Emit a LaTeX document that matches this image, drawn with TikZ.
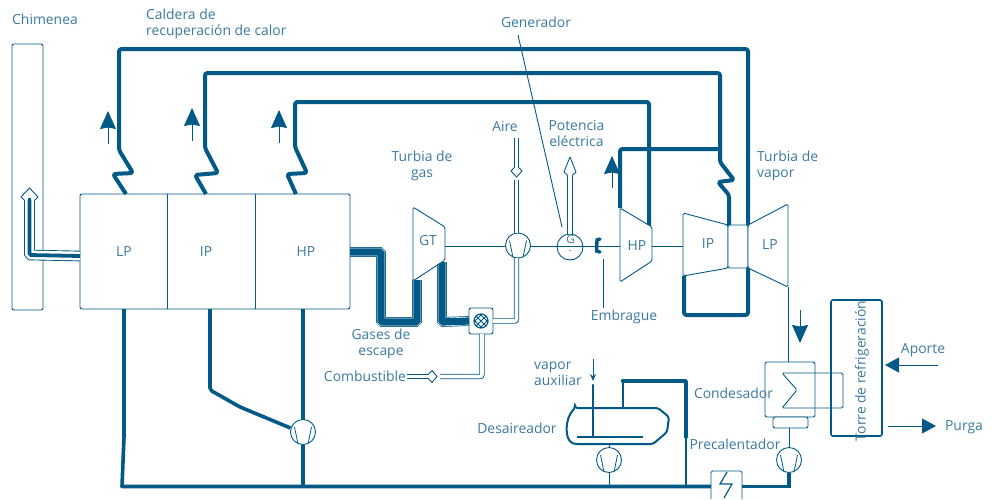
\documentclass[tikz,border=0pt]{standalone}
\usepackage{fontspec}
\setmainfont{Open Sans}
\usetikzlibrary{arrows.meta}
\definecolor{pipeblue}{HTML}{005A85}
\definecolor{textblue}{HTML}{3A7AA0}
\tikzset{
  thinline/.style={draw=pipeblue,line width=0.9pt,rounded corners=1.5pt},
  steam/.style={draw=pipeblue,line width=4pt,line join=round,rounded corners=2.5pt},
  water/.style={draw=pipeblue,line width=3.6pt,line join=round},
  twin/.style={draw=pipeblue,line width=0.9pt,double=white,double distance=3.6pt,rounded corners=2pt},
  gasline/.style={preaction={draw=pipeblue,line width=9.8pt},preaction={draw=white,line width=8.4pt},
    draw=pipeblue,line width=7.2pt,rounded corners=1.5pt},
  flueline/.style={preaction={draw=pipeblue,line width=10.6pt},preaction={draw=white,line width=8.8pt},
    draw=pipeblue,line width=3.8pt,rounded corners=1.5pt},
  flow/.style={draw=pipeblue,line width=0.9pt,-{Stealth[length=18pt,width=16pt,inset=1.5pt]}},
  box/.style={draw=pipeblue,line width=0.9pt,rounded corners=2pt,outer sep=0pt,inner sep=0pt},
  pump/.style={circle,draw=pipeblue,line width=0.9pt,fill=white,minimum size=25pt,inner sep=0pt,outer sep=0pt,
    path picture={
      \draw[pipeblue,line width=0.8pt] ([shift={(-8.5,-5)}]path picture bounding box.center) -- ([shift={(-5,12)}]path picture bounding box.center);
      \draw[pipeblue,line width=0.8pt] ([shift={(8.5,-5)}]path picture bounding box.center) -- ([shift={(5,12)}]path picture bounding box.center);
    }},
  lbl/.style={text=textblue,font=\fontsize{13.9}{16}\selectfont,align=center,inner sep=0pt},
  pics/hollowtip/.style n args={3}{code={
    \fill[white] (-#3,#2+3) -- (-#1,#2) -- (0,0) -- (#1,#2) -- (#3,#2+3) -- cycle;
    \draw[pipeblue,line width=0.9pt,line join=round] (-#3,#2+3) -- (-#1,#2) -- (0,0) -- (#1,#2) -- (#3,#2+3);
  }}
}
\begin{document}
\begin{tikzpicture}[x=1pt,y=-1pt,>=stealth]
  \useasboundingbox (0,0) rectangle (993,499);

  \node[box,minimum width=31pt,minimum height=266pt] (chimney) at (27.5,177) {};
  \node[box,minimum width=270pt,minimum height=115pt] (boiler) at (215,251.5) {};
  \draw[thinline] (boiler.north -| 167,0) -- (boiler.south -| 167,0);
  \draw[thinline] (boiler.north -| 255,0) -- (boiler.south -| 255,0);
  \node[lbl] (lplabel) at (124,252) {LP};
  \node[lbl] (iplabel) at (206,252) {IP};
  \node[lbl] (hplabel) at (306,252) {HP};

  \coordinate (lpboil) at (126,194);
  \coordinate (ipboil) at (206,194);
  \coordinate (hpboil) at (296,194);
  \coordinate (hpin) at (649,226);
  \coordinate (hpout) at (620,208);
  \coordinate (ipin) at (729,225);
  \coordinate (lpin) at (748,225);
  \coordinate (lpback) at (748,268);
  \coordinate (ipback) at (684,276);

  \draw[steam] (lpboil) -- (113,174) -- (133,173) -- (119,150) -- (119,49) -- (748,49) -- (lpin);
  \draw[steam] (ipboil) -- (195,175) -- (218,173) -- (205,148) -- (205,73) -- (720,73) -- (720,162)
    -- (734,180) -- (718,182) -- (729,195) -- (ipin);
  \draw[steam] (hpboil) -- (287,174) -- (307,173) -- (295,147) -- (295,102) -- (649,102) -- (hpin);
  \draw[steam] (hpout) -- (620,149) -- (720,149);
  \draw[steam] (ipback) -- (684,315) -- (748,315) -- (lpback);

  \draw[flow] (108,144) -- (108,111);
  \draw[flow] (192,141) -- (192,108);
  \draw[flow] (279,143) -- (279,110);
  \draw[flow] (612,188) -- (612,156);
  \draw[flow] (800,310) -- (800,343);

  \coordinate (flueout) at (80,256);
  \draw[flueline] (flueout) -- (29.5,255) -- (29.5,200);
  \pic at (29.5,188) {hollowtip={8.5}{9}{5.3}};
  \draw[draw=pipeblue,line width=3.8pt] (29.5,205) -- (29.5,198);

  \coordinate (gasin) at (350,252);
  \coordinate (gtin) at (417,280);
  \coordinate (gtout) at (442,262);
  \node[box,fill=white,minimum width=24pt,minimum height=26pt] (mixer) at (481,321) {};
  \draw[gasline] (gasin) -- (381,252) -- (381,322) -- (417,322) -- (gtin);
  \draw[gasline] (gtout) -- (442,322) -- (mixer.west);
  \node[circle,draw=pipeblue,line width=1.2pt,minimum size=14pt,inner sep=0pt,outer sep=0pt,
    path picture={
      \foreach \d in {-6,0,6} {
        \draw[pipeblue,line width=0.8pt] ([shift={(\d-8,8)}]path picture bounding box.center) -- ([shift={(\d+8,-8)}]path picture bounding box.center);
        \draw[pipeblue,line width=0.8pt] ([shift={(\d-8,-8)}]path picture bounding box.center) -- ([shift={(\d+8,8)}]path picture bounding box.center);
      }
    }] (burner) at (481,321) {};

  \draw[thinline,fill=white] (413,207) -- (445,227) -- (445,260) -- (413,281) -- cycle;
  \node[lbl] (gtlabel) at (428,241) {GT};
  \draw[thinline,fill=white] (620,208) -- (652,227) -- (652,261) -- (620,282) -- cycle;
  \node[lbl] (hptlabel) at (637,246) {HP};
  \draw[thinline,fill=white] (683,213) -- (728,225) -- (728,268) -- (683,276) -- cycle;
  \node[lbl] (iptlabel) at (708,244) {IP};
  \draw[thinline,fill=white] (728,225) rectangle (748,268);
  \draw[thinline,fill=white] (748,225) -- (788,204) -- (788,287) -- (748,268) -- cycle;
  \node[lbl] (lptlabel) at (770,245) {LP};

  \coordinate (shaftgt) at (445,246);
  \coordinate (shaftclutch) at (596,246);
  \coordinate (shafthp) at (620,246);
  \coordinate (shafthpout) at (652,246);
  \coordinate (shaftip) at (683,246);
  \draw[thinline] (shaftgt) -- (shaftclutch);
  \draw[thinline] (shaftclutch) -- (shafthp);
  \draw[thinline] (shafthpout) -- (shaftip);
  \draw[pipeblue,line width=3.4pt,line cap=round] (600,239) -- (597,240) -- (596.5,251) -- (600,252);
  \node[pump] (compressor) at (518,245.5) {};
  \node[circle,draw=pipeblue,line width=0.9pt,minimum size=26pt,inner sep=0pt,outer sep=0pt] (gen) at (570,247) {};
  \node[lbl,font=\fontsize{11.5}{12}\selectfont] (gensym) at (570.5,239.5) {G};
  \node[lbl,font=\fontsize{9}{10}\selectfont] (genminus) at (570,252) {-};

  \coordinate (airtop) at (516.5,138);
  \coordinate (airstem) at (516.5,168);
  \coordinate (airjoin) at (516.5,180);
  \draw[twin] (airtop) -- (airstem);
  \pic[rotate=180] at (516.5,177) {hollowtip={5.5}{6}{2.7}};
  \draw[twin] (airjoin) -- (compressor.north -| airjoin);
  \draw[twin] (compressor.south -| airjoin) -- (516.5,321) -- (mixer.east);
  \draw[twin] (gen.north) -- (570,174);
  \pic at (570,157) {hollowtip={6}{15}{2.7}};
  \coordinate (fuelin) at (407,376.5);
  \coordinate (fuelend) at (429,376.5);
  \coordinate (fuelnext) at (440,376.5);
  \draw[twin] (fuelin) -- (fuelend);
  \pic[rotate=-90] at (437,376.5) {hollowtip={6}{5}{2.7}};
  \draw[twin] (fuelnext) -- (482,376.5) -- (mixer.south -| 482,0);

  \coordinate (genlead) at (518,35);
  \coordinate (genleadend) at (562,227);
  \draw[draw=pipeblue,line width=0.9pt] (genlead) -- (genleadend);
  \coordinate (clutchtop) at (603,259);
  \coordinate (clutchbot) at (603,308);
  \draw[draw=pipeblue,line width=0.9pt] (clutchtop) -- (clutchbot);

  \node[pump] (feedpump) at (303,432) {};
  \coordinate (lpdown) at (124,309);
  \coordinate (ipdown) at (210,309);
  \coordinate (hpdown) at (303,309);
  \coordinate (maincorner) at (122,486.5);
  \node[pump] (deapump) at (609,460) {};
  \node[pump] (condpump) at (789,460) {};
  \coordinate (heatin) at (711,486.5);
  \coordinate (heatout) at (742,486.5);
  \draw[water] (lpdown) -- (124,437) -- (maincorner) -- (heatin);
  \draw[water,line join=miter] (heatout) -- (789,486.5) -- (condpump.south);
  \draw[water,rounded corners=2pt] (ipdown) -- (210,390) -- (240,407) -- (feedpump.west |- 0,428);
  \draw[water] (hpdown) -- (feedpump.north);
  \draw[water] (feedpump.south) -- (303,486.5);
  \draw[thinline] (deapump.south) -- (609,486.5);
  \draw[thinline] (711,499) -- (711,471) -- (742,471) -- (742,499);
  \draw[draw=pipeblue,line width=1.2pt,line join=miter] (727,472) -- (720,484) -- (732,484) -- (724,498);

  \coordinate (dearatortop) at (623,408);
  \coordinate (vaporin) at (593,385);
  \coordinate (sparge) at (593,437);
  \draw[draw=pipeblue,line width=2pt,fill=white,rounded corners=2.5pt]
    (575,408) -- (658,408) -- (669,417) -- (667,432) -- (653,444) -- (575,444)
    .. controls (564,440) and (565,418) .. cycle;
  \draw[draw=pipeblue,line width=1.8pt] (577,437) -- (643,437);
  \draw[draw=pipeblue,line width=2.6pt,line cap=round] (vaporin) -- (sparge);
  \draw[draw=pipeblue,line width=0.9pt,-{Stealth[length=7pt,width=6pt]}] (593,359) -- (593,381);
  \draw[draw=pipeblue,line width=2.4pt] (dearatortop) -- (623,381);
  \draw[draw=pipeblue,line width=3.6pt,line cap=round,line join=round] (622.5,381) -- (686,381) -- (686,437);
  \draw[draw=pipeblue,line width=2.2pt] (686,437) -- (686,486.5);
  \draw[thinline] (609,444) -- (deapump.north);

  \node[box,fill=white,minimum width=50pt,minimum height=55pt] (condenser) at (790,389.5) {};
  \node[box,fill=white,minimum width=35pt,minimum height=11pt] (hotwell) at (790.5,422.5) {};
  \draw[thinline] (782,373) -- (843,373) -- (843,408) -- (782,408) -- (797,390) -- cycle;
  \draw[thinline] (788,287) -- (condenser.north -| 788,0);
  \draw[thinline] (hotwell.south -| 789,0) -- (condpump.north);

  \node[box,line width=1.6pt,minimum width=51pt,minimum height=136pt] (tower) at (856.5,368) {};
  \node[lbl,rotate=90] (towerlabel) at (862,371) {Torre de refrigeración};
  \coordinate (aportein) at (938,365);
  \coordinate (aportetip) at (885,365);
  \coordinate (purgaout) at (888,426);
  \coordinate (purgatip) at (936,426);
  \draw[flow,-{Stealth[length=14pt,width=15pt,inset=0pt]}] (aportein) -- (aportetip);
  \draw[flow,-{Stealth[length=14pt,width=15pt,inset=0pt]}] (purgaout) -- (purgatip);

  \node[lbl] (chimneylabel) at (45,19.5) {Chimenea};
  \node[lbl,align=left,anchor=west] (boilerlabel) at (146,24) {Caldera de\\recuperación de calor};
  \node[lbl] (genlabel) at (536,22) {Generador};
  \node[lbl] (airlabel) at (505,126) {Aire};
  \node[lbl] (powerlabel) at (576.5,133.5) {Potencia\\eléctrica};
  \node[lbl] (gtname) at (422,165.5) {Turbia de\\gas};
  \node[lbl,align=left,anchor=west] (stname) at (757,165.5) {Turbia de\\vapor};
  \node[lbl] (gaslabel) at (381,343.5) {Gases de\\escape};
  \node[lbl] (fuellabel) at (365,376.5) {Combustible};
  \node[lbl,align=left,anchor=west] (auxlabel) at (534,373.5) {vapor\\auxiliar};
  \node[lbl] (dealabel) at (517,428.5) {Desaireador};
  \node[lbl] (condlabel) at (733.5,393) {Condesador};
  \node[lbl] (prelabel) at (735,444) {Precalentador};
  \node[lbl] (clutchlabel) at (624,316.5) {Embrague};
  \node[lbl] (aportelabel) at (923,350.5) {Aporte};
  \node[lbl] (purgalabel) at (964,427) {Purga};
\end{tikzpicture}
\end{document}
